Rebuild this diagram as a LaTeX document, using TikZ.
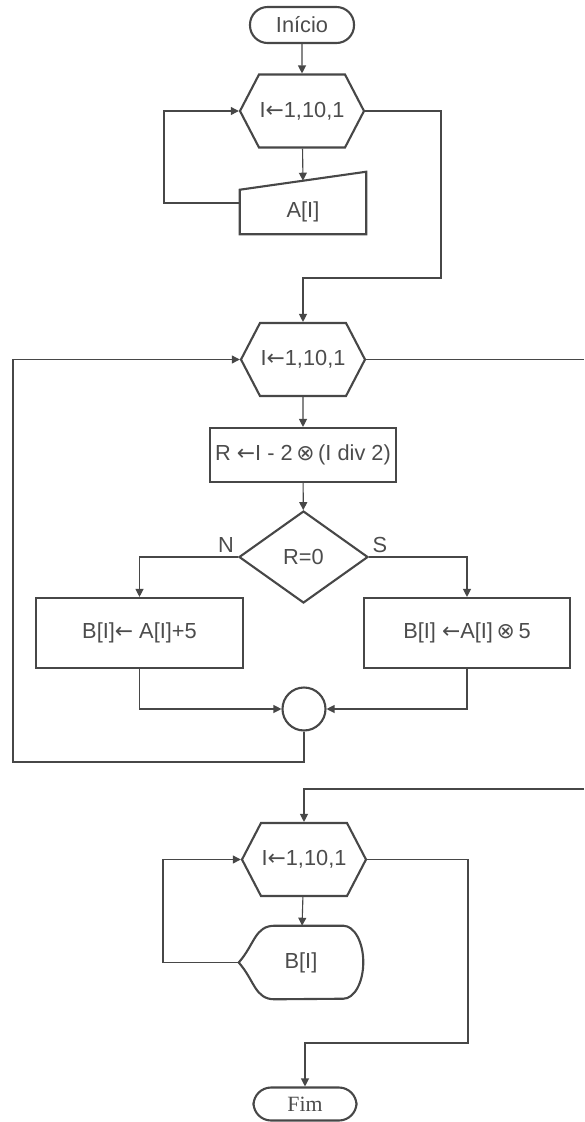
\documentclass[tikz,border=0pt]{standalone}
\usepackage{fontspec}
\setmainfont{Liberation Sans}
\newfontfamily\symfont{DejaVu Sans}
\newfontfamily\serfont{Liberation Serif}
\usepackage{tikz}
\usetikzlibrary{positioning, arrows.meta, shapes.geometric, shapes.symbols, calc}
\colorlet{fcline}{black!72}
\colorlet{fctext}{black!70}
\newcommand{\lar}{{\symfont ←}}
\newcommand{\otm}{{\symfont ⊗}}
\tikzset{
    fcbase/.style={text=fctext, font=\fontsize{15.5}{17}\selectfont, align=center, inner sep=0pt},
    fcterm/.style={fcbase, draw=fcline, line width=1.5pt, rounded corners=4.4mm, minimum width=2.6cm, minimum height=0.9cm},
    fchex/.style={fcbase, draw=fcline, line width=1.5pt, signal, signal to=east and west, signal pointer angle=125, minimum width=3.1cm, minimum height=1.825cm},
    fcin/.style={fcbase, minimum width=3.15cm, minimum height=1.1cm},
    fcproc/.style={fcbase, draw=fcline, line width=1.5pt, minimum height=1.75cm},
    fcdec/.style={fcbase, draw=fcline, line width=1.5pt, diamond, minimum width=3.225cm, minimum height=2.3cm},
    fcjoin/.style={draw=fcline, line width=1.5pt, circle, minimum size=1.075cm, inner sep=0pt},
    fcshape/.style={draw=fcline, line width=1.5pt},
    fcarrow/.style={draw=fcline, line width=0.8pt, -{Triangle[length=2mm, width=2mm]}},
    fcline/.style={draw=fcline, line width=0.8pt},
    fclbl/.style={text=fctext, font=\fontsize{15.5}{17}\selectfont, inner sep=1pt},
}

\begin{document}
\begin{tikzpicture}
        \useasboundingbox (0,0) rectangle (14.6,-28.05);
        % leitura de A
        \node[fcterm] (ini) at (7.55,-0.625) {Início};
        \node[fchex] (forA) at (7.55,-2.775) {I\lar1,10,1};
        \node[fcin] (readA) at (7.575,-5.3) {A[I]};
        \draw[fcshape] (readA.south west) -- (readA.south east) -- ([yshift=4.5mm]readA.north east) -- (readA.north west) -- cycle;
        \coordinate (loopA) at (4.1,-2.775);
        \coordinate (bendA) at (11.025,-6.95);
        \draw[fcarrow] (ini) -- (forA);
        \draw[fcarrow] (forA) -- ([yshift=2.25mm]readA.north);
        \draw[fcarrow] ([yshift=2.25mm]readA.west) -| (loopA) -- (forA.west);
        % calculo de B
        \node[fchex] (forB) at (7.575,-8.9875) {I\lar1,10,1};
        \node[fcproc, minimum width=4.65cm, minimum height=1.35cm] (calcR) at (7.575,-11.375) {R \lar I - 2\,\otm\,(I div 2)};
        \node[fcdec] (testR) at (7.5875,-13.925) {R=0};
        \node[fcproc, minimum width=5.175cm] (sumB) at (3.4875,-15.825) {B[I]\lar\ A[I]+5};
        \node[fcproc, minimum width=5.15cm] (mulB) at (11.675,-15.825) {B[I] \lar A[I]\,\otm\,5};
        \node[fcjoin] (join) at (7.6,-17.725) {};
        \node[fclbl] (lblN) at (5.65,-13.625) {N};
        \node[fclbl] (lblS) at (9.5,-13.625) {S};
        \draw[fcarrow] (forA.east) -| (bendA) -| (forB.north);
        \draw[fcarrow] (forB) -- (calcR);
        \draw[fcarrow] (calcR) -- (testR);
        \draw[fcarrow] (testR.west) -| (sumB.north);
        \draw[fcarrow] (testR.east) -| (mulB.north);
        \draw[fcarrow] (sumB.south) |- (join.west);
        \draw[fcarrow] (mulB.south) |- (join.east);
        \coordinate (loopB) at (0.325,-19.05);
        \coordinate (exitB) at (14.6,-8.9875);
        \draw[fcarrow] (join.south) |- (loopB) |- (forB.west);
        \draw[fcline] (forB.east) -- (exitB);
        % escrita de B
        \coordinate (entryC) at (14.6,-19.725);
        \node[fchex] (forC) at (7.6,-21.4875) {I\lar1,10,1};
        \node[fcin, minimum width=3.1cm, minimum height=1.825cm] (showB) at (7.525,-24.0625) {B[I]};
        \draw[fcshape] (showB.west) .. controls +(0.4,0.45) and +(-0.5,0) .. ([xshift=0.9cm]showB.north west) -- ([xshift=-0.5cm]showB.north east) arc[start angle=90, end angle=-90, x radius=0.5cm, y radius=0.9125cm] -- ([xshift=0.9cm]showB.south west) .. controls +(-0.5,0) and +(0.4,-0.45) .. (showB.west) -- cycle;
        \node[fcterm, minimum width=2.575cm, minimum height=0.825cm, font=\fontsize{15.5}{17}\serfont] (fim) at (7.625,-27.6) {Fim};
        \coordinate (loopC) at (4.075,-21.4875);
        \coordinate (bendC) at (11.7,-26.075);
        \draw[fcarrow] (entryC) -| (forC.north);
        \draw[fcarrow] (forC) -- (showB);
        \draw[fcarrow] (showB.west) -| (loopC) -- (forC.west);
        \draw[fcarrow] (forC.east) -| (bendC) -| (fim.north);
    \end{tikzpicture}
\end{document}
